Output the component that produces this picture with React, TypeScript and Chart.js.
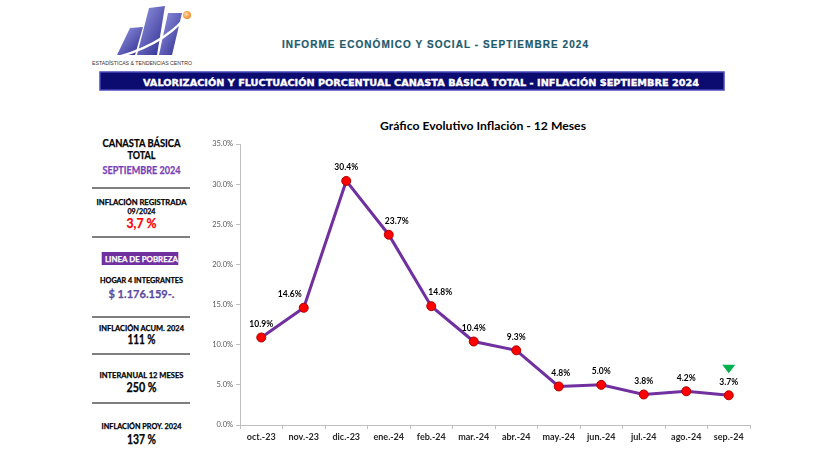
import React, { useEffect, useRef } from "react";
import { Chart, registerables } from "chart.js";

Chart.register(...registerables);

// ---- Data ----
const months = ["oct.-23", "nov.-23", "dic.-23", "ene.-24", "feb.-24", "mar.-24", "abr.-24", "may.-24", "jun.-24", "jul.-24", "ago.-24", "sep.-24"];
const inflation = [10.9, 14.6, 30.4, 23.7, 14.8, 10.4, 9.3, 4.8, 5.0, 3.8, 4.2, 3.7];
const yMin = 0;
const yMax = 35;
const yStep = 5;

const chartTitle = "Gráfico Evolutivo Inflación - 12 Meses";
const headerTitle = "INFORME ECONÓMICO Y SOCIAL - SEPTIEMBRE 2024";
const bannerTitle = "VALORIZACIÓN Y FLUCTUACIÓN PORCENTUAL CANASTA BÁSICA TOTAL - INFLACIÓN SEPTIEMBRE 2024";
const logoText = "ESTADÍSTICAS & TENDENCIAS CENTRO";

const FONT = "Lato, 'Open Sans', sans-serif";

// label nudges (as Excel placed them to avoid the line)
const labelShiftX = (i: number) => (i === 1 ? -14 : i === 3 ? 8 : i === 4 ? 9 : i === 7 ? 2 : 0);

const pointLabelPlugin = {
  id: "pointLabels",
  afterDatasetsDraw(chart: any) {
    const ctx = chart.ctx;
    const meta = chart.getDatasetMeta(0);
    ctx.save();
    ctx.font = "bold 8.5px Lato, sans-serif";
    ctx.fillStyle = "#000000";
    ctx.textAlign = "center";
    ctx.textBaseline = "middle";
    meta.data.forEach((pt: any, i: number) => {
      const v = chart.data.datasets[0].data[i] as number;
      ctx.fillText(v.toFixed(1) + "%", pt.x + labelShiftX(i), pt.y - 13.5);
    });
    const last = meta.data[meta.data.length - 1];
    if (last) {
      ctx.fillStyle = "#00B050";
      ctx.beginPath();
      ctx.moveTo(last.x - 6.5, last.y - 30.5);
      ctx.lineTo(last.x + 6.5, last.y - 30.5);
      ctx.lineTo(last.x, last.y - 22);
      ctx.closePath();
      ctx.fill();
    }
    ctx.restore();
  },
};

function InflationChart() {
  const ref = useRef<HTMLCanvasElement | null>(null);
  useEffect(() => {
    if (!ref.current) return;
    const chart = new Chart(ref.current, {
      type: "line",
      data: {
        labels: months,
        datasets: [
          {
            data: inflation,
            borderColor: "#7030A0",
            borderWidth: 3,
            pointRadius: 4.5,
            pointBackgroundColor: "#FF0000",
            pointBorderColor: "#B00000",
            pointBorderWidth: 1,
            tension: 0,
            fill: false,
          },
        ],
      },
      options: {
        responsive: false,
        animation: false,
        layout: { padding: { top: 34, right: 23, bottom: 0, left: 0 } },
        plugins: {
          legend: { display: false },
          tooltip: { enabled: false },
          title: { display: false },
        },
        scales: {
          x: {
            offset: true,
            grid: { display: true, drawOnChartArea: false, drawTicks: true, tickLength: 4, offset: true, color: "#BFBFBF" },
            border: { display: true, color: "#BFBFBF", width: 1 },
            ticks: { color: "#262626", font: { family: FONT, size: 9, weight: "bold" }, padding: 3, maxRotation: 0, autoSkip: false },
            afterFit(s: any) { s.height = 30; },
          },
          y: {
            min: yMin,
            max: yMax,
            ticks: {
              stepSize: yStep,
              callback: (v: any) => Number(v).toFixed(1) + "%",
              color: "#595959",
              font: { family: FONT, size: 7.5 },
              padding: 3,
            },
            grid: { display: true, drawOnChartArea: false, drawTicks: true, tickLength: 4, color: "#BFBFBF" },
            border: { display: true, color: "#BFBFBF", width: 1 },
            afterFit(s: any) { s.width = 47; },
          },
        },
      } as any,
      plugins: [pointLabelPlugin],
    });
    if ((document as any).fonts && (document as any).fonts.ready) {
      (document as any).fonts.ready.then(() => chart.update());
    }
    return () => chart.destroy();
  }, []);
  return <canvas ref={ref} width={580} height={345} style={{ display: "block" }} />;
}

function PanelText(props: { y: number; size: number; color?: string; len: number; children: string }) {
  return (
    <text
      x={141.5}
      y={props.y}
      textAnchor="middle"
      fontFamily={FONT}
      fontWeight="bold"
      fontSize={props.size}
      fill={props.color || "#000000"}
      stroke={props.color || "#000000"}
      strokeWidth={0.25}
      textLength={props.len}
      lengthAdjust="spacingAndGlyphs"
    >
      {props.children}
    </text>
  );
}

export default function App() {
  const sep = (y: number) => <line x1={92} x2={190} y1={y} y2={y} stroke="#555555" strokeWidth={1.4} />;
  return (
    <div style={{ position: "absolute", left: 0, top: 0, width: 819, height: 460, background: "#ffffff", overflow: "hidden" }}>
      <svg width={819} height={460} style={{ position: "absolute", left: 0, top: 0 }}>
        <defs>
          <linearGradient id="barGrad" x1="0" y1="0" x2="1" y2="1">
            <stop offset="0" stopColor="#9a9ae6" />
            <stop offset="1" stopColor="#2a2a8e" />
          </linearGradient>
          <radialGradient id="dotGrad" cx="0.4" cy="0.4" r="0.6">
            <stop offset="0" stopColor="#ffe0a8" />
            <stop offset="1" stopColor="#f0892a" />
          </radialGradient>
        </defs>
        {/* logo */}
        <polygon points="117,55 135,55 143,27 130,28" fill="url(#barGrad)" />
        <polygon points="137,55 157,55 165,6 149,8" fill="url(#barGrad)" />
        <polygon points="159,55 172,55 182,13 168,13" fill="url(#barGrad)" />
        <path d="M 106 60 Q 160 48 186 17" stroke="#ffffff" strokeWidth={2.5} fill="none" />
        <circle cx={187} cy={15} r={4} fill="url(#dotGrad)" />
        <text x={92} y={65} fontFamily="'Liberation Sans', Arial, sans-serif" fontSize={5.5} fill="#333333" textLength={100} lengthAdjust="spacingAndGlyphs">
          {logoText}
        </text>

        {/* header */}
        <text x={435} y={48} textAnchor="middle" fontFamily="'Liberation Sans', Arial, sans-serif" fontWeight="bold" fontSize={10} fill="#1D5A6C" stroke="#1D5A6C" strokeWidth={0.2} textLength={306} lengthAdjust="spacing">
          {headerTitle}
        </text>

        {/* banner */}
        <rect x={100} y={72} width={624} height={18} fill="#0B0B70" stroke="#4848B8" strokeWidth={1.5} />
        <text x={421} y={85.5} textAnchor="middle" fontFamily="'DejaVu Sans', 'Liberation Sans', sans-serif" fontWeight="bold" fontSize={9.5} fill="#ffffff" stroke="#ffffff" strokeWidth={0.35} textLength={556} lengthAdjust="spacingAndGlyphs">
          {bannerTitle}
        </text>

        {/* chart title */}
        <text x={483} y={129.5} textAnchor="middle" fontFamily={FONT} fontWeight="bold" fontSize={12.2} fill="#000000" textLength={206} lengthAdjust="spacingAndGlyphs">
          {chartTitle}
        </text>

        {/* left panel */}
        <PanelText y={147} size={10.5} len={78}>CANASTA BÁSICA</PanelText>
        <PanelText y={158.5} size={10.5} len={28}>TOTAL</PanelText>
        <PanelText y={174} size={10.5} color="#7B3FB8" len={78}>SEPTIEMBRE 2024</PanelText>
        {sep(188)}
        <PanelText y={205} size={7.8} len={90}>INFLACIÓN REGISTRADA</PanelText>
        <PanelText y={214} size={7.8} len={28}>09/2024</PanelText>
        <PanelText y={227.5} size={13} color="#FF0000" len={30}>3,7 %</PanelText>
        {sep(237)}
        <rect x={101.7} y={252} width={76.6} height={13} fill="#7030A0" />
        <PanelText y={262} size={8} color="#ffffff" len={73}>LINEA DE POBREZA</PanelText>
        <PanelText y={283} size={7.8} len={83}>HOGAR 4 INTEGRANTES</PanelText>
        <PanelText y={297.5} size={12} color="#5A4AA0" len={66}>$ 1.176.159-.</PanelText>
        {sep(317)}
        <PanelText y={331} size={7.8} len={85}>INFLACIÓN ACUM. 2024</PanelText>
        <PanelText y={343.5} size={12.5} len={28}>111 %</PanelText>
        {sep(354)}
        <PanelText y={378} size={7.8} len={84}>INTERANUAL 12 MESES</PanelText>
        <PanelText y={391.5} size={12.5} len={30}>250 %</PanelText>
        {sep(403)}
        <PanelText y={429} size={7.8} len={80}>INFLACIÓN PROY. 2024</PanelText>
        <PanelText y={443.5} size={12.5} len={29}>137 %</PanelText>
      </svg>
      <div style={{ position: "absolute", left: 193, top: 110, width: 580, height: 345 }}>
        <InflationChart />
      </div>
    </div>
  );
}
